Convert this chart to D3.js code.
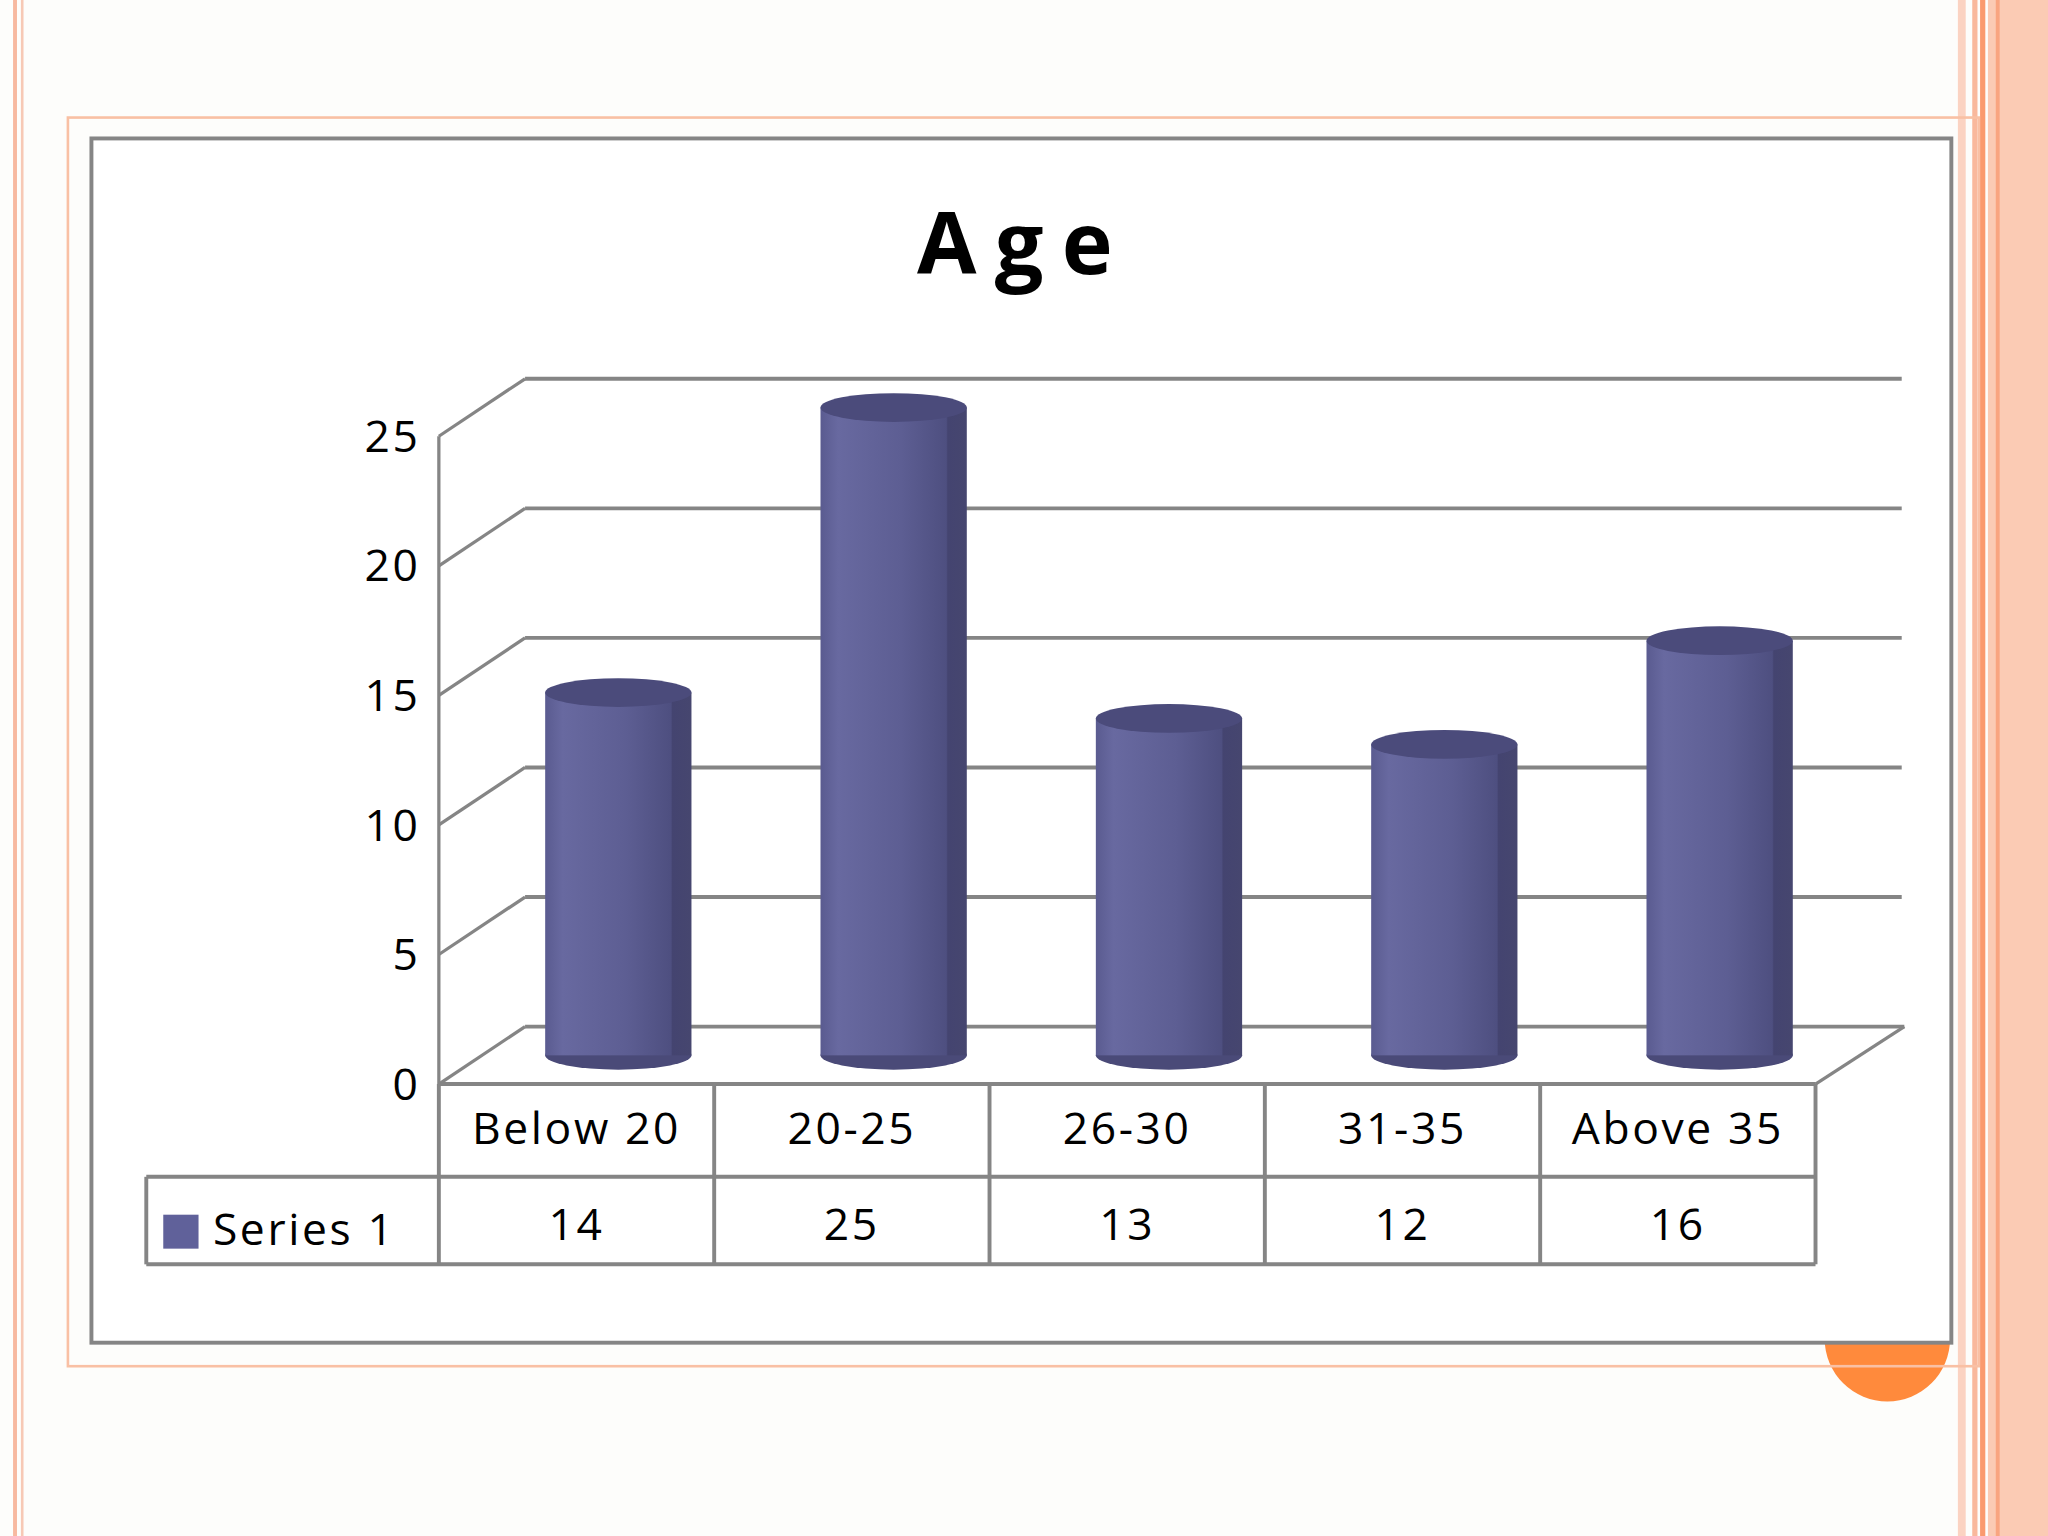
<!DOCTYPE html>
<html><head><meta charset="utf-8">
<script src="https://cdn.jsdelivr.net/npm/d3@7"></script>
<style>body{margin:0;background:#fdfdfb}svg{display:block}</style>
</head><body>
<script>
// chart data
var categories = ['Below 20', '20-25', '26-30', '31-35', 'Above 35'];
var values = [14, 25, 13, 12, 16];
var seriesName = 'Series 1';
var yTicks = [0, 5, 10, 15, 20, 25];

var svg = d3.select('body').append('svg')
  .attr('width', 2048).attr('height', 1536)
  .attr('viewBox', '0 0 1568 1176');

// slide decoration
svg.append('rect').attr('width', 1568).attr('height', 1176).attr('fill', '#fdfdfb');
[[10, 3, '#f7b9a0'], [16, 2, '#f7c9b5']].forEach(function(d){
  svg.append('rect').attr('x', d[0]).attr('y', 0).attr('width', d[1]).attr('height', 1176).attr('fill', d[2]);
});
[[1499, 6, '#fbd3c2'], [1510, 4, '#f9b89c'], [1516, 4, '#fa9a6e'], [1522, 46, '#fbcbb4'], [1528, 3, '#f9a580']].forEach(function(d){
  svg.append('rect').attr('x', d[0]).attr('y', 0).attr('width', d[1]).attr('height', 1176).attr('fill', d[2]);
});
svg.append('circle').attr('cx', 1445).attr('cy', 1025).attr('r', 48).attr('fill', '#ff8a3c');
svg.append('rect').attr('x', 52).attr('y', 90).attr('width', 1463).attr('height', 956)
  .attr('fill', 'none').attr('stroke', '#f9c0a4').attr('stroke-width', 2);
svg.append('rect').attr('x', 70).attr('y', 106).attr('width', 1424).attr('height', 922)
  .attr('fill', '#ffffff').attr('stroke', '#858585').attr('stroke-width', 3);

svg.append('text').attr('x', 784).attr('y', 210).attr('text-anchor', 'middle')
  .attr('font-family', 'Open Sans, sans-serif').attr('font-weight', 'bold')
  .attr('font-size', 66).attr('letter-spacing', 14).text('Age');

// scales
var x0 = 336, x1 = 1390, dx = 66, dy = -44;
var y = d3.scaleLinear().domain([0, 25]).range([830, 334]);
var x = d3.scaleBand().domain(categories).range([x0, x1]);
var grid = '#858585';

// back wall gridlines + left wall diagonals
yTicks.forEach(function(t){
  svg.append('line').attr('x1', x0 + dx).attr('x2', x1 + dx + (t === 0 ? 2 : 0))
    .attr('y1', y(t) + dy).attr('y2', y(t) + dy).attr('stroke', grid).attr('stroke-width', 3);
  svg.append('line').attr('x1', x0).attr('y1', y(t)).attr('x2', x0 + dx).attr('y2', y(t) + dy)
    .attr('stroke', grid).attr('stroke-width', 2.5);
  svg.append('text').attr('x', 322).attr('y', y(t) + 12).attr('text-anchor', 'end')
    .attr('font-family', 'Open Sans, sans-serif').attr('font-size', 34).attr('letter-spacing', 2).text(t);
});
svg.append('line').attr('x1', x0).attr('y1', y(0)).attr('x2', x0).attr('y2', y(25))
  .attr('stroke', grid).attr('stroke-width', 2.5);
svg.append('line').attr('x1', x1).attr('y1', y(0)).attr('x2', x1 + dx + 2).attr('y2', y(0) + dy)
  .attr('stroke', grid).attr('stroke-width', 2.5);

// gradient for cylinder
var defs = svg.append('defs');
var g = defs.append('linearGradient').attr('id', 'cyl');
[[0, '#5a5b90'], [0.12, '#6869a0'], [0.55, '#5d5e93'], [0.86, '#4e4f80'], [0.87, '#444470'], [1, '#46466f']]
  .forEach(function(s){ g.append('stop').attr('offset', s[0]).attr('stop-color', s[1]); });

var bw = 112, ry = 11;
values.forEach(function(v, i){
  var cx = x(categories[i]) + x.bandwidth() / 2 + dx / 2 - 1;
  var yb = y(0) + dy / 2, yt = y(v) + dy / 2;
  var bar = svg.append('g');
  bar.append('ellipse').attr('cx', cx).attr('cy', yb).attr('rx', bw / 2).attr('ry', ry).attr('fill', '#4a4a78');
  bar.append('rect').attr('x', cx - bw / 2).attr('y', yt).attr('width', bw).attr('height', yb - yt)
    .attr('fill', 'url(#cyl)');
  bar.append('ellipse').attr('cx', cx).attr('cy', yt).attr('rx', bw / 2).attr('ry', ry).attr('fill', '#4b4b7b');
});

// data table
var t0 = 830, t1 = 901, t2 = 968, lx = 112;
[[x0, t0, x1, t0], [lx, t1, x1, t1], [lx, t2, x1, t2], [lx, t1, lx, t2]].forEach(function(l){
  svg.append('line').attr('x1', l[0]).attr('y1', l[1]).attr('x2', l[2]).attr('y2', l[3])
    .attr('stroke', grid).attr('stroke-width', 3);
});
x.domain().concat(['end']).forEach(function(c){
  var xx = c === 'end' ? x1 : x(c);
  svg.append('line').attr('x1', xx).attr('x2', xx).attr('y1', t0).attr('y2', t2)
    .attr('stroke', grid).attr('stroke-width', 3);
});
categories.forEach(function(c, i){
  var cx = x(c) + x.bandwidth() / 2;
  svg.append('text').attr('x', cx).attr('y', 876).attr('text-anchor', 'middle')
    .attr('font-family', 'Open Sans, sans-serif').attr('font-size', 34).attr('letter-spacing', 2).text(c);
  svg.append('text').attr('x', cx).attr('y', 949).attr('text-anchor', 'middle')
    .attr('font-family', 'Open Sans, sans-serif').attr('font-size', 34).attr('letter-spacing', 2).text(values[i]);
});
svg.append('rect').attr('x', 125).attr('y', 930).attr('width', 27).attr('height', 26).attr('fill', '#60619a');
svg.append('text').attr('x', 163).attr('y', 953)
  .attr('font-family', 'Open Sans, sans-serif').attr('font-size', 34).attr('letter-spacing', 2).text(seriesName);
</script>
</body></html>
